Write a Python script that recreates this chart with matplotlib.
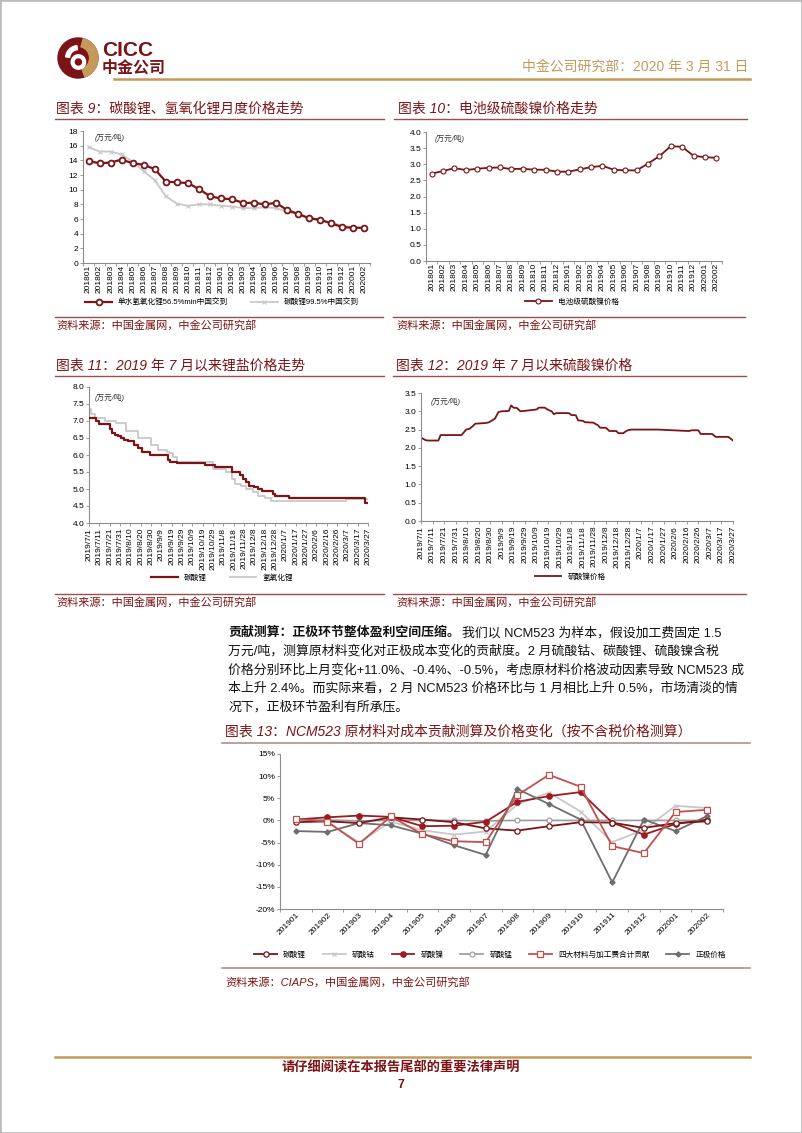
import numpy as np
import pandas as pd
import matplotlib
matplotlib.use('Agg')
import matplotlib.pyplot as plt
from matplotlib.lines import Line2D
from matplotlib.patches import Circle, Wedge, Rectangle
from matplotlib.ticker import FuncFormatter

plt.rcParams['font.family'] = ['Liberation Sans', 'Noto Sans CJK SC']
plt.rcParams['axes.unicode_minus'] = False

# ---------------- data ----------------
months_18 = ['201801', '201802', '201803', '201804', '201805', '201806', '201807', '201808',
             '201809', '201810', '201811', '201812', '201901', '201902', '201903', '201904',
             '201905', '201906', '201907', '201908', '201909', '201910', '201911', '201912',
             '202001', '202002']
lioh_price = [13.9, 13.6, 13.7, 14.1, 13.6, 13.4, 12.8, 11.1, 11.0, 10.9, 10.1, 9.1, 8.8,
              8.7, 8.2, 8.2, 8.0, 8.2, 7.2, 6.7, 6.1, 5.9, 5.4, 4.9, 4.8, 4.8]
li2co3_price = [15.8, 15.2, 15.2, 14.8, 13.8, 12.5, 11.3, 9.1, 8.1, 7.8, 8.0, 8.0, 7.8,
                7.7, 7.5, 7.5, 7.6, 7.5, 7.0, 6.6, 6.0, 5.8, 5.5, 5.1, 4.85, 4.8]
niso4_month = [2.71, 2.79, 2.88, 2.82, 2.86, 2.89, 2.90, 2.85, 2.86, 2.83, 2.83, 2.77, 2.77,
               2.84, 2.91, 2.95, 2.83, 2.81, 2.81, 3.02, 3.25, 3.56, 3.54, 3.26, 3.22, 3.20]

# chart 11: daily prices since July 2019 (dates where the price changes)
li2co3_dates = ['2019-07-01', '2019-07-08', '2019-07-11', '2019-07-21', '2019-07-23',
                '2019-07-26', '2019-07-29', '2019-08-01', '2019-08-04', '2019-08-08',
                '2019-08-14', '2019-08-17', '2019-08-21', '2019-08-29', '2019-09-15',
                '2019-09-17', '2019-09-24', '2019-10-21', '2019-10-31', '2019-11-16',
                '2019-11-24', '2019-11-27', '2019-11-30', '2019-12-03', '2019-12-08',
                '2019-12-12', '2019-12-15', '2019-12-26', '2019-12-28', '2020-01-11',
                '2020-03-24', '2020-03-27']
li2co3_daily = [7.10, 7.00, 6.90, 6.75, 6.65, 6.58, 6.55, 6.50, 6.45, 6.40, 6.30, 6.20,
                6.10, 6.00, 5.85, 5.80, 5.75, 5.70, 5.65, 5.50, 5.40, 5.30, 5.20, 5.10,
                5.05, 5.00, 4.95, 4.85, 4.80, 4.75, 4.60, 4.60]
lioh_dates = ['2019-07-01', '2019-07-03', '2019-07-07', '2019-07-16', '2019-07-27',
              '2019-08-06', '2019-08-17', '2019-08-30', '2019-09-06', '2019-09-14',
              '2019-09-16', '2019-09-20', '2019-09-24', '2019-10-29', '2019-11-11',
              '2019-11-16', '2019-11-19', '2019-11-25', '2019-11-30', '2019-12-07',
              '2019-12-12', '2019-12-18', '2019-12-24', '2020-03-06', '2020-03-27']
lioh_daily = [7.35, 7.20, 7.10, 7.00, 6.95, 6.70, 6.50, 6.30, 6.15, 6.10, 6.05, 5.95,
              5.78, 5.60, 5.50, 5.30, 5.15, 5.10, 5.00, 4.90, 4.80, 4.75, 4.65, 4.70, 4.70]

# chart 12: nickel sulfate daily price
niso4_dates = ['2019-07-01', '2019-07-05', '2019-07-07', '2019-07-16', '2019-07-18',
               '2019-08-05', '2019-08-07', '2019-08-09', '2019-08-12', '2019-08-15',
               '2019-08-17', '2019-08-26', '2019-08-29', '2019-08-31', '2019-09-03',
               '2019-09-06', '2019-09-09', '2019-09-15', '2019-09-17', '2019-09-19',
               '2019-09-22', '2019-09-25', '2019-10-04', '2019-10-09', '2019-10-11',
               '2019-10-16', '2019-10-19', '2019-10-22', '2019-10-24', '2019-10-26',
               '2019-11-06', '2019-11-08', '2019-11-12', '2019-11-14', '2019-11-18',
               '2019-11-20', '2019-11-27', '2019-12-01', '2019-12-03', '2019-12-08',
               '2019-12-11', '2019-12-17', '2019-12-19', '2019-12-23', '2019-12-26',
               '2019-12-30', '2020-01-22', '2020-02-18', '2020-02-20', '2020-02-26',
               '2020-02-28', '2020-03-09', '2020-03-12', '2020-03-23', '2020-03-25',
               '2020-03-27']
niso4_daily = [2.28, 2.21, 2.20, 2.20, 2.35, 2.35, 2.42, 2.50, 2.52, 2.60, 2.66, 2.68,
               2.70, 2.74, 2.80, 2.98, 3.00, 3.01, 3.16, 3.10, 3.09, 3.00, 3.03, 3.05,
               3.10, 3.10, 3.04, 3.00, 2.92, 2.95, 2.95, 2.90, 2.89, 2.75, 2.74, 2.70,
               2.69, 2.62, 2.55, 2.55, 2.46, 2.46, 2.40, 2.40, 2.47, 2.50, 2.50, 2.46,
               2.48, 2.48, 2.38, 2.38, 2.30, 2.30, 2.25, 2.20]

# chart 13: NCM523 cost contribution (%)
months_13 = ['201901', '201902', '201903', '201904', '201905', '201906', '201907',
             '201908', '201909', '201910', '201911', '201912', '202001', '202002']
c_li2co3 = [-0.4, -0.2, -0.6, 0.7, 0.2, -0.4, -1.8, -2.3, -1.3, -0.4, -0.5, -1.7, -0.6, -0.2]
c_coso4 = [0.2, -0.4, -5.0, -0.3, -2.2, -3.2, -2.5, 3.6, 6.3, 2.0, -4.9, -2.1, 3.3, 2.8]
c_niso4 = [0.2, 0.7, 1.1, 0.8, -1.3, -1.2, -0.3, 4.2, 5.5, 6.4, -0.5, -3.2, -0.8, 0.2]
c_mnso4 = [0.1, 0.1, -0.1, 0.0, 0.0, 0.0, -0.1, 0.0, 0.0, 0.0, 0.0, 0.0, 0.0, 0.0]
c_total = [0.4, -0.3, -5.3, 0.9, -3.1, -4.7, -4.9, 5.7, 10.3, 7.6, -5.8, -7.4, 1.9, 2.4]
c_cathode = [-2.4, -2.6, -0.6, -1.1, -3.0, -5.6, -7.8, 7.1, 3.7, 0.2, -14.0, 0.2, -2.4, 1.0]

# ---------------- layout helpers ----------------
W, H = 802, 1133
DR = '#7A1416'
GOLD = '#C49A5C'
RULE = '#9A4E4E'
AXC = '#8C8C8C'
LG = '#C8C8C8'

fig = plt.figure(figsize=(W / 100, H / 100), dpi=100)


def px_axes(l, t, r, b):
    return fig.add_axes([l / W, 1 - b / H, (r - l) / W, (b - t) / H])


def ftext(x, y, s, **kw):
    kw.setdefault('va', 'center')
    return fig.text(x / W, 1 - y / H, s, **kw)


def hline(x0, x1, y, color=RULE, lw=1.0):
    fig.add_artist(Line2D([x0 / W, x1 / W], [1 - y / H, 1 - y / H], color=color, lw=lw))


def style(ax, size=6):
    for s in ['top', 'right']:
        ax.spines[s].set_visible(False)
    for s in ['left', 'bottom']:
        ax.spines[s].set_color(AXC)
        ax.spines[s].set_linewidth(0.8)
    ax.tick_params(labelsize=size, length=2, width=0.6, color=AXC, pad=1.5)
    ax.tick_params(which='minor', length=2, width=0.6, color=AXC)


def cat_axis(ax, labels, rot=90):
    n = len(labels)
    ax.set_xlim(-0.5, n - 0.5)
    ax.set_xticks(np.arange(n))
    ax.set_xticklabels(labels, rotation=rot)
    ax.set_xticks(np.arange(n + 1) - 0.5, minor=True)
    ax.tick_params(axis='x', which='major', length=0)


def day_axis(ax, start, end):
    ticks = pd.date_range(start, end, freq='10D')
    ax.set_xlim(0, (pd.Timestamp(end) - pd.Timestamp(start)).days)
    ax.set_xticks([(t - pd.Timestamp(start)).days for t in ticks])
    ax.set_xticklabels([f'{t.year}/{t.month}/{t.day}' for t in ticks], rotation=90)


def to_days(dates, start='2019-07-01'):
    return (pd.to_datetime(dates) - pd.Timestamp(start)).days


title_kw = dict(fontsize=10, color=DR, style='italic')
src_kw = dict(fontsize=8, color=DR, style='italic')
unit_kw = dict(fontsize=5.5, color='#333333', style='italic')

# ---------------- page header ----------------
fig.add_artist(Rectangle((0, 0), 1, 1, transform=fig.transFigure, fill=False,
                         ec='#BDBDBD', lw=2))
lax = px_axes(57, 37, 99, 79)
lax.set_xlim(-1.05, 1.05)
lax.set_ylim(-1.05, 1.05)
lax.set_aspect('equal')
lax.axis('off')
lax.add_patch(Circle((0, 0), 1, color=DR))
lax.add_patch(Wedge((0, 0), 1, -70, 75, width=0.42, color=GOLD))
lax.add_patch(Circle((0.02, -0.2), 0.36, color='white'))
lax.add_patch(Circle((0.02, -0.2), 0.15, color=DR))
lax.add_patch(Wedge((0, 0), 0.62, 95, 175, width=0.2, color='white'))

ftext(102, 50, 'CICC', fontsize=15, weight='bold', color=DR)
ftext(102, 68, '中金公司', fontsize=11.5, weight='bold', color=DR)
ftext(748, 67, '中金公司研究部：2020 年 3 月 31 日', fontsize=10, color=GOLD, ha='right')
hline(114, 750, 79, color=GOLD, lw=1.8)

# ---------------- chart 9 ----------------
ftext(56, 109, '图表 9：碳酸锂、氢氧化锂月度价格走势', **title_kw)
hline(55, 384, 119)
ax9 = px_axes(83, 131, 370, 263)
style(ax9)
x = np.arange(len(months_18))
ax9.plot(x, li2co3_price, color=LG, lw=1.3, marker='x', ms=3, mew=0.8, zorder=2,
         label='碳酸锂99.5%中国交到')
ax9.plot(x, lioh_price, color=DR, lw=1.6, marker='o', ms=4.2, mfc='white', mew=1.3,
         zorder=3, label='单水氢氧化锂56.5%min中国交到')
cat_axis(ax9, months_18)
ax9.set_ylim(0, 18)
ax9.set_yticks(np.arange(0, 19, 2))
ax9.text(0.04, 0.98, '(万元/吨)', transform=ax9.transAxes, va='top', **unit_kw)
h, l = ax9.get_legend_handles_labels()
fig.legend(h[::-1], l[::-1], loc='center', bbox_to_anchor=(222 / W, 1 - 303 / H), ncol=2,
           frameon=False, fontsize=5.5, handlelength=3.5, columnspacing=3)
hline(55, 383, 317)
ftext(56, 325, '资料来源：中国金属网，中金公司研究部', **src_kw)

# ---------------- chart 10 ----------------
ftext(398, 109, '图表 10：电池级硫酸镍价格走势', **title_kw)
hline(394, 747, 119)
ax10 = px_axes(426, 132, 722, 261)
style(ax10)
ax10.plot(x, niso4_month, color=DR, lw=1.3, marker='o', ms=3.6, mfc='white', mew=0.8,
          label='电池级硫酸镍价格')
cat_axis(ax10, months_18)
ax10.set_ylim(0, 4)
ax10.set_yticks(np.arange(0, 4.01, 0.5))
ax10.yaxis.set_major_formatter(FuncFormatter(lambda v, p: f'{v:.1f}'))
ax10.text(0.03, 0.98, '(万元/吨)', transform=ax10.transAxes, va='top', **unit_kw)
fig.legend(*ax10.get_legend_handles_labels(), loc='center',
           bbox_to_anchor=(572 / W, 1 - 302 / H), frameon=False, fontsize=5.5,
           handlelength=3.5)
hline(393, 745, 317)
ftext(396, 325, '资料来源：中国金属网，中金公司研究部', **src_kw)

# ---------------- chart 11 ----------------
ftext(56, 366, '图表 11：2019 年 7 月以来锂盐价格走势', **title_kw)
hline(55, 384, 376)
ax11 = px_axes(89, 387, 368, 523)
style(ax11)
ax11.plot(to_days(li2co3_dates), li2co3_daily, color=DR, lw=1.6, drawstyle='steps-post',
          zorder=3, label='碳酸锂')
ax11.plot(to_days(lioh_dates), lioh_daily, color=LG, lw=1.3, drawstyle='steps-post',
          zorder=2, label='氢氧化锂')
day_axis(ax11, '2019-07-01', '2020-03-27')
ax11.set_ylim(4, 8)
ax11.set_yticks(np.arange(4, 8.01, 0.5))
ax11.yaxis.set_major_formatter(FuncFormatter(lambda v, p: f'{v:.1f}'))
ax11.text(0.02, 0.95, '(万元/吨)', transform=ax11.transAxes, va='top', **unit_kw)
fig.legend(*ax11.get_legend_handles_labels(), loc='center',
           bbox_to_anchor=(222 / W, 1 - 578 / H), ncol=2, frameon=False, fontsize=5.5,
           handlelength=3.5, columnspacing=3)
hline(55, 384, 594)
ftext(56, 602, '资料来源：中国金属网，中金公司研究部', **src_kw)

# ---------------- chart 12 ----------------
ftext(396, 366, '图表 12：2019 年 7 月以来硫酸镍价格', **title_kw)
hline(393, 746, 376)
ax12 = px_axes(421, 393, 733, 521)
style(ax12)
ax12.plot(to_days(niso4_dates), niso4_daily, color=DR, lw=1.3, label='硫酸镍价格')
day_axis(ax12, '2019-07-01', '2020-03-27')
ax12.set_ylim(0, 3.5)
ax12.set_yticks(np.arange(0, 3.51, 0.5))
ax12.yaxis.set_major_formatter(FuncFormatter(lambda v, p: f'{v:.1f}'))
ax12.text(0.03, 0.96, '(万元/吨)', transform=ax12.transAxes, va='top', **unit_kw)
fig.legend(*ax12.get_legend_handles_labels(), loc='center',
           bbox_to_anchor=(570 / W, 1 - 577 / H), frameon=False, fontsize=5.5,
           handlelength=3.5)
hline(393, 746, 594)
ftext(396, 602, '资料来源：中国金属网，中金公司研究部', **src_kw)

# ---------------- paragraph ----------------
renderer = fig.canvas.get_renderer()
para_kw = dict(fontsize=9.3, color='#111111')
py0, pstep = 633, 18.5
t = ftext(228, py0, '贡献测算：正极环节整体盈利空间压缩。', weight='bold', **para_kw)
bb = t.get_window_extent(renderer)
ftext(bb.x1 + 2, py0, '我们以 NCM523 为样本，假设加工费固定 1.5', **para_kw)
para_lines = ['万元/吨，测算原材料变化对正极成本变化的贡献度。2 月硫酸钴、碳酸锂、硫酸镍含税',
              '价格分别环比上月变化+11.0%、-0.4%、-0.5%，考虑原材料价格波动因素导致 NCM523 成',
              '本上升 2.4%。而实际来看，2 月 NCM523 价格环比与 1 月相比上升 0.5%，市场清淡的情',
              '况下，正极环节盈利有所承压。']
for i, s in enumerate(para_lines):
    ftext(228, py0 + pstep * (i + 1), s, **para_kw)

# ---------------- chart 13 ----------------
ftext(225, 732, '图表 13：NCM523 原材料对成本贡献测算及价格变化（按不含税价格测算）', **title_kw)
hline(222, 750, 743, color='#B09090', lw=1.2)
ax13 = px_axes(280, 754, 723, 909)
style(ax13, size=6)
x13 = np.arange(len(months_13))
ax13.plot(x13, c_li2co3, color=DR, lw=1.3, marker='o', ms=3.8, mfc='white', mew=0.9,
          label='碳酸锂', zorder=5)
ax13.plot(x13, c_coso4, color=LG, lw=1.3, marker='x', ms=3.5, mew=0.9, label='硫酸钴',
          zorder=2)
ax13.plot(x13, c_niso4, color='#9C1A1F', lw=1.3, marker='o', ms=3.8, label='硫酸镍',
          zorder=4)
ax13.plot(x13, c_mnso4, color='#9A9A9A', lw=1.2, marker='o', ms=3.5, mfc='white',
          mew=0.8, label='硫酸锰', zorder=3)
ax13.plot(x13, c_total, color='#C0504D', lw=1.3, marker='s', ms=4.3, mfc='white', mew=0.9,
          label='四大材料与加工费合计贡献', zorder=6)
ax13.plot(x13, c_cathode, color='#6E6E6E', lw=1.3, marker='D', ms=2.6,
          label='正极价格', zorder=4)
cat_axis(ax13, months_13, rot=45)
for lab in ax13.get_xticklabels():
    lab.set_ha('right')
    lab.set_rotation_mode('anchor')
ax13.set_ylim(-20, 15)
ax13.set_yticks(np.arange(-20, 16, 5))
ax13.yaxis.set_major_formatter(FuncFormatter(lambda v, p: f'{v:.0f}%'))
fig.legend(*ax13.get_legend_handles_labels(), loc='center',
           bbox_to_anchor=(490 / W, 1 - 955 / H), ncol=6, frameon=False, fontsize=5.5,
           handlelength=3, columnspacing=2.2)
hline(222, 750, 968, color='#B09090', lw=1.2)
ftext(225, 982, '资料来源：CIAPS，中国金属网，中金公司研究部', **src_kw)

# ---------------- footer ----------------
hline(55, 750, 1057, color=GOLD, lw=1.8)
ftext(401, 1068, '请仔细阅读在本报告尾部的重要法律声明', fontsize=9.5, weight='bold',
      style='italic', color=DR, ha='center')
ftext(401, 1085, '7', fontsize=9, weight='bold', color=DR, ha='center')

fig.savefig('out.png', dpi=100)
